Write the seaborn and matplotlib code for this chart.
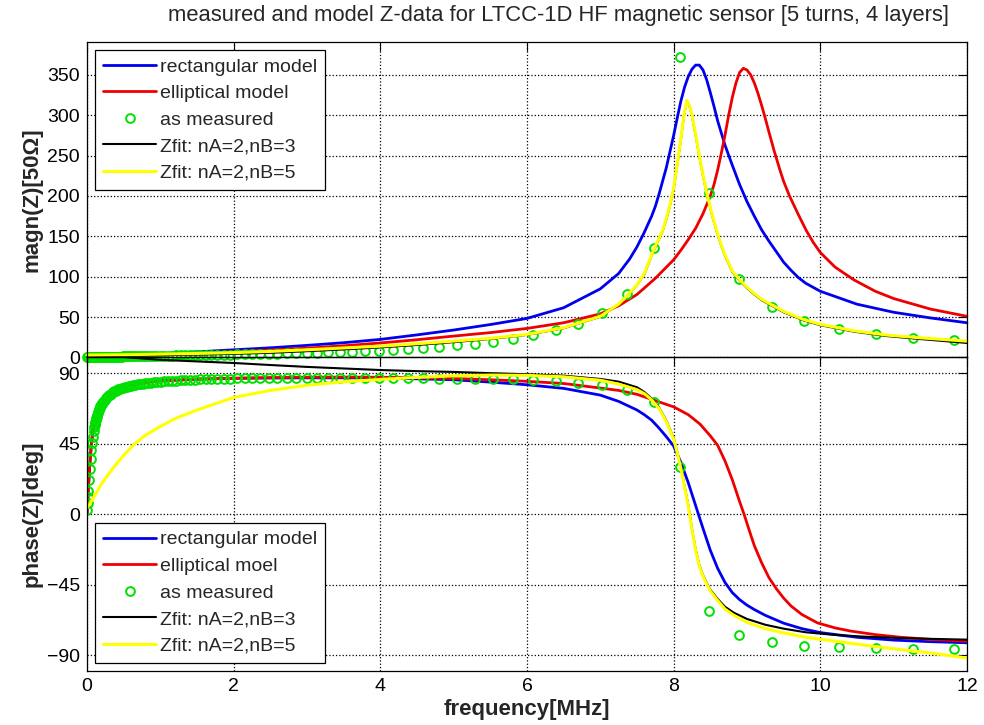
import matplotlib
matplotlib.use("Agg")
import matplotlib.pyplot as plt
import seaborn as sns

# ---------------- data ----------------
# measured points (frequency in MHz)
meas_freq = [0.005, 0.01, 0.015, 0.02, 0.03, 0.04, 0.05, 0.06, 0.07, 0.08,
             0.09, 0.099, 0.104, 0.109, 0.114, 0.119, 0.125, 0.131, 0.138, 0.144,
             0.151, 0.159, 0.166, 0.174, 0.183, 0.192, 0.201, 0.211, 0.221, 0.232,
             0.243, 0.255, 0.267, 0.280, 0.294, 0.308, 0.323, 0.339, 0.355, 0.373,
             0.391, 0.410, 0.429, 0.450, 0.472, 0.495, 0.519, 0.544, 0.571, 0.598,
             0.627, 0.658, 0.690, 0.723, 0.758, 0.795, 0.833, 0.874, 0.916, 0.960,
             1.007, 1.056, 1.107, 1.161, 1.217, 1.276, 1.338, 1.403, 1.471, 1.542,
             1.617, 1.696, 1.778, 1.864, 1.954, 2.049, 2.149, 2.253, 2.362, 2.477,
             2.597, 2.723, 2.855, 2.994, 3.139, 3.291, 3.451, 3.618, 3.794, 3.978,
             4.171, 4.373, 4.585, 4.807, 5.040, 5.285, 5.541, 5.81, 6.08, 6.39,
             6.70, 7.02, 7.36, 7.73, 8.08, 8.48, 8.89, 9.34, 9.78, 10.26,
             10.76, 11.27, 11.82]
meas_mag = [0.5, 0.5, 0.5, 0.5, 0.5, 0.6, 0.6, 0.6, 0.6, 0.6,
            0.7, 0.7, 0.7, 0.7, 0.7, 0.7, 0.7, 0.7, 0.7, 0.7,
            0.8, 0.8, 0.8, 0.8, 0.8, 0.8, 0.8, 0.8, 0.9, 0.9,
            0.9, 0.9, 0.9, 0.9, 1.0, 1.0, 1.0, 1.0, 1.1, 1.1,
            1.1, 1.1, 1.2, 1.2, 1.2, 1.3, 1.3, 1.4, 1.4, 1.5,
            1.5, 1.6, 1.6, 1.7, 1.7, 1.8, 1.8, 1.9, 2.0, 2.0,
            2.1, 2.2, 2.3, 2.4, 2.5, 2.5, 2.6, 2.7, 2.9, 3.0,
            3.1, 3.2, 3.4, 3.5, 3.7, 3.8, 4.0, 4.2, 4.4, 4.6,
            4.8, 5.0, 5.3, 5.5, 5.8, 6.2, 6.6, 7.0, 7.6, 8.3,
            9.4, 10.6, 12.0, 13.6, 15.4, 17.3, 19.6, 23.0, 28.0, 33.5,
            42.0, 55.0, 78.5, 135.5, 372.5, 204.0, 97.0, 63.0, 45.5, 34.7,
            29.0, 24.3, 21.5]
meas_phase = [3, 7, 11, 15, 22, 29, 35, 41, 45.5, 49.5,
              53, 55.7, 57, 58, 59, 60.3, 61.3, 62.3, 63.6, 64.5,
              65.4, 66.4, 67.2, 68, 68.8, 69.7, 70.5, 71.2, 71.9, 72.5,
              73.2, 74, 74.6, 75.2, 75.8, 76.3, 76.9, 77.4, 77.9, 78.4,
              78.8, 79.2, 79.6, 80, 80.4, 80.7, 81.1, 81.4, 81.7, 82,
              82.3, 82.6, 82.8, 83.1, 83.3, 83.5, 83.7, 83.9, 84.1, 84.3,
              84.5, 84.7, 84.9, 85.0, 85.2, 85.4, 85.5, 85.7, 85.8, 86.0,
              86.1, 86.2, 86.3, 86.4, 86.6, 86.7, 86.8, 86.9, 86.9, 87.0,
              87.0, 87.1, 87.1, 87.1, 87.1, 87.1, 87.1, 87.0, 87.0, 86.9,
              86.9, 86.8, 86.7, 86.6, 86.5, 86.4, 86.2, 86.0, 85.5, 85.0,
              83.8, 82.3, 79.1, 71.7, 30.3, -61.6, -76.8, -81.5, -83.8, -84.9,
              -85.3, -85.9, -85.9]

# rectangular model
rect_mag_freq = [0, 0.5, 1, 1.5, 2, 2.5, 3, 3.5, 4, 4.5,
                 5, 5.5, 6, 6.5, 7, 7.25, 7.4, 7.5, 7.6, 7.7,
                 7.75, 7.8, 7.9, 8.0, 8.05, 8.1, 8.15, 8.2, 8.25, 8.3,
                 8.35, 8.4, 8.45, 8.5, 8.55, 8.6, 8.7, 8.8, 8.9, 9.0,
                 9.1, 9.2, 9.3, 9.4, 9.5, 9.6, 9.7, 9.8, 10, 10.5,
                 11, 11.5, 12]
rect_mag = [0.5, 2.3, 4.6, 7, 9.5, 12, 15, 18.3, 22.4, 28,
            34, 40.8, 48.4, 61.6, 85, 104, 122, 137, 155, 175,
            187, 202, 235, 275, 297, 318, 335, 348, 357, 362,
            362, 356, 344, 328, 311, 293, 263, 238, 214, 193,
            175, 158, 144, 131, 118, 108, 99, 92, 82, 66,
            56, 49, 43]
rect_ph_freq = [0, 0.01, 0.02, 0.04, 0.06, 0.08, 0.1, 0.15, 0.2, 0.3,
                0.4, 0.5, 0.7, 1, 1.5, 2, 2.5, 3, 3.5, 4,
                4.5, 5, 5.5, 6, 6.5, 7, 7.25, 7.5, 7.6, 7.7,
                7.8, 7.9, 8.0, 8.1, 8.2, 8.3, 8.4, 8.5, 8.6, 8.7,
                8.8, 8.9, 9.0, 9.1, 9.25, 9.5, 9.75, 10, 10.5, 11,
                11.5, 12]
rect_ph = [0, 9, 18, 33, 45, 53, 59, 68, 73, 78,
           80.5, 82, 83.8, 85.2, 86.2, 86.7, 86.9, 87, 87, 86.8,
           86.4, 85.8, 84.3, 82.6, 80.3, 76, 72, 66.5, 63.5, 60,
           55, 49.5, 43.5, 33, 20, 5.5, -9, -23, -34.5, -43.5,
           -50, -54.5, -58, -60.8, -64.5, -69.5, -73, -75.5, -78.5, -80.3,
           -81.3, -82]

# elliptical model
ellip_mag_freq = [0, 0.5, 1, 1.5, 2, 2.5, 3, 3.5, 4, 4.5,
                  5, 5.5, 6, 6.5, 7, 7.25, 7.5, 7.75, 8.0, 8.1,
                  8.2, 8.3, 8.4, 8.5, 8.55, 8.6, 8.65, 8.7, 8.75, 8.8,
                  8.85, 8.9, 8.95, 9.0, 9.05, 9.1, 9.15, 9.2, 9.25, 9.3,
                  9.37, 9.45, 9.5, 9.58, 9.7, 9.81, 9.9, 10, 10.2, 10.46,
                  10.75, 11, 11.5, 12]
ellip_mag = [0.5, 1.8, 3.5, 5.2, 7.2, 9.3, 11.5, 14.5, 18, 22,
             26.5, 30.8, 36, 43, 54, 64, 78, 98, 121, 133,
             146, 160, 178, 200, 214, 232, 253, 275, 300, 322,
             340, 353, 358, 356, 350, 340, 327, 312, 296, 279,
             256, 232, 218, 200, 177, 157, 143, 130, 112, 96,
             82, 73, 60, 51]
ellip_ph_freq = [0, 0.01, 0.02, 0.04, 0.06, 0.08, 0.1, 0.15, 0.2, 0.3,
                 0.4, 0.5, 0.7, 1, 1.5, 2, 2.5, 3, 3.5, 4,
                 4.5, 5, 5.5, 6, 6.5, 7, 7.25, 7.5, 7.75, 8.0,
                 8.2, 8.36, 8.5, 8.6, 8.7, 8.8, 8.9, 8.96, 9.05, 9.1,
                 9.2, 9.3, 9.4, 9.5, 9.6, 9.75, 9.96, 10.2, 10.41, 10.75,
                 11.1, 11.5, 12]
ellip_ph = [0, 8.5, 17.5, 32.5, 44.5, 52.5, 58.5, 67.5, 72.5, 77.5,
            80, 81.6, 83.5, 85, 86.2, 86.8, 87.2, 87.4, 87.5, 87.4,
            87.1, 86.6, 85.8, 84.8, 83.4, 80.5, 79, 76.5, 72.5, 68.5,
            63.5, 57.5, 50, 44, 34, 22, 8, 0, -13, -20,
            -31, -40.5, -47.5, -53.5, -58.5, -64, -69.3, -72.5, -74.5, -76.8,
            -78.5, -79.8, -81]

# Zfit nA=2, nB=3 (black) and nA=2, nB=5 (yellow)
fit_mag_freq = [0, 0.5, 1, 1.5, 2, 2.5, 3, 3.5, 4, 4.5,
                5, 5.5, 6, 6.5, 7, 7.25, 7.4, 7.5, 7.6, 7.7,
                7.77, 7.84, 7.9, 7.95, 8.0, 8.05, 8.1, 8.14, 8.18, 8.22,
                8.25, 8.3, 8.35, 8.4, 8.46, 8.53, 8.61, 8.7, 8.8, 8.9,
                9.0, 9.1, 9.2, 9.32, 9.5, 9.77, 10, 10.46, 10.91, 11.37,
                12]
fit3_mag = [1.5, 2, 2.8, 3.6, 4.5, 5.8, 7.8, 10, 12.5, 15.5,
            19, 23, 28, 36.2, 50.5, 65.5, 79.5, 89.5, 103, 126,
            141, 154, 171, 188, 209, 239, 271, 299, 318, 310,
            299, 275, 249, 225, 199, 174, 149, 126, 106, 95,
            86, 78, 71, 65, 56, 46, 40, 32, 26.5, 22.8,
            18]
fit5_mag = [3, 3.4, 4.2, 5, 6, 7.5, 9.5, 11.8, 14, 17,
            20.3, 23.8, 28.6, 36.8, 51, 66, 80, 90, 104, 127,
            142, 155, 172, 189, 210, 240, 272, 300, 318, 311,
            300, 276, 250, 226, 200, 175, 150, 127, 107, 96,
            87, 79, 72, 66, 57, 47, 41, 33, 27.7, 24.3,
            20.2]
fit3_ph_freq = [0, 0.1, 0.25, 0.5, 1.0, 1.5, 2.0, 2.5, 3.0, 3.5,
                4.0, 4.5, 5.0, 5.5, 6.0, 6.5, 7.0, 7.25, 7.5, 7.6,
                7.7, 7.8, 7.9, 8.0, 8.05, 8.1, 8.15, 8.2, 8.25, 8.3,
                8.35, 8.4, 8.45, 8.5, 8.6, 8.7, 8.82, 9.0, 9.25, 9.5,
                9.8, 10.2, 10.6, 11.1, 11.5, 12]
fit3_ph = [130, 115, 106, 100.3, 98.5, 97.5, 96.5, 95.2, 94, 93,
           92, 91.3, 90.8, 90, 89.3, 88.4, 86.3, 84.6, 81, 78,
           73.8, 68.2, 59.7, 48.7, 39.6, 29.6, 17.6, 5.6, -9.4, -22.4,
           -32.4, -38.8, -43.8, -48.2, -54, -59, -62.8, -66.8, -70.5, -73,
           -75.3, -77, -78.1, -79, -79.5, -80]
fit5_ph_freq = [0, 0.05, 0.1, 0.2, 0.3, 0.4, 0.5, 0.64, 0.8, 1.0,
                1.2, 1.5, 2.0, 2.5, 3.0, 3.5, 4.0, 4.5, 5.0, 5.5,
                6.0, 6.5, 7.0, 7.25, 7.5, 7.6, 7.7, 7.8, 7.9, 8.0,
                8.05, 8.1, 8.15, 8.2, 8.25, 8.3, 8.35, 8.4, 8.45, 8.5,
                8.6, 8.7, 8.82, 9.0, 9.25, 9.5, 9.8, 10.2, 10.6, 11.1,
                11.5, 12]
fit5_ph = [4, 7.5, 11.5, 19.5, 26, 32, 37.5, 44.6, 50.5, 56,
           61, 66.5, 74.5, 79, 82.3, 84.5, 86, 87.3, 88.3, 88.8,
           88.6, 87.7, 85.5, 83, 79.5, 77, 73, 67.5, 59, 48,
           39, 29, 17, 5, -10, -23, -33, -39.5, -44.5, -49,
           -55, -60.5, -64.5, -69, -73, -75.7, -78.5, -81, -83.5, -86.4,
           -88.5, -91.7]

x_ticks = [0, 2, 4, 6, 8, 10, 12]
mag_ticks = [0, 50, 100, 150, 200, 250, 300, 350]
phase_ticks = [-90, -45, 0, 45, 90]

labels_top = ["rectangular model", "elliptical model", "as measured",
              "Zfit: nA=2,nB=3", "Zfit: nA=2,nB=5"]
labels_bottom = ["rectangular model", "elliptical moel", "as measured",
                 "Zfit: nA=2,nB=3", "Zfit: nA=2,nB=5"]
title_text = "measured and model Z-data for LTCC-1D HF magnetic sensor [5 turns, 4 layers]"

# ---------------- style ----------------
sns.set_style("white")
plt.rcParams['font.family'] = ['Liberation Sans', 'DejaVu Sans']

BLUE = '#0000ee'
RED = '#ee0000'
GREEN = '#00e000'
BLACK = '#000000'
YELLOW = '#ffff00'

fig = plt.figure(figsize=(9.84, 7.25), dpi=100)
ax1 = fig.add_axes([0.0884, 0.5069, 0.8943, 0.4356])
ax2 = fig.add_axes([0.0884, 0.0745, 0.8943, 0.4324])
ax2.set_facecolor('none')


def draw_line(ax, f, v, color, lw, label, clip):
    sns.lineplot(x=f, y=v, ax=ax, color=color, linewidth=lw, label=label,
                 sort=False, estimator=None, legend=False, clip_on=clip)


def draw_points(ax, f, v, label, clip):
    sns.lineplot(x=f, y=v, ax=ax, color=GREEN, linestyle='none', marker='o',
                 markersize=6.3, markerfacecolor='none', markeredgecolor=GREEN,
                 markeredgewidth=1.4, label=label, sort=False, estimator=None,
                 legend=False, clip_on=clip)


# top: magnitude
draw_line(ax1, rect_mag_freq, rect_mag, BLUE, 2.0, labels_top[0], False)
draw_line(ax1, ellip_mag_freq, ellip_mag, RED, 2.0, labels_top[1], False)
draw_points(ax1, meas_freq, meas_mag, labels_top[2], False)
draw_line(ax1, fit_mag_freq, fit3_mag, BLACK, 1.5, labels_top[3], False)
draw_line(ax1, fit_mag_freq, fit5_mag, YELLOW, 2.2, labels_top[4], False)

# bottom: phase
draw_line(ax2, rect_ph_freq, rect_ph, BLUE, 2.0, labels_bottom[0], True)
draw_line(ax2, ellip_ph_freq, ellip_ph, RED, 2.0, labels_bottom[1], True)
draw_points(ax2, meas_freq, meas_phase, labels_bottom[2], True)
draw_line(ax2, fit3_ph_freq, fit3_ph, BLACK, 1.5, labels_bottom[3], True)
draw_line(ax2, fit5_ph_freq, fit5_ph, YELLOW, 2.2, labels_bottom[4], True)

for ax in (ax1, ax2):
    ax.set_xlim(0, 12)
    ax.set_xticks(x_ticks)
    ax.grid(True, linestyle=':', color='black', linewidth=0.9)
    ax.set_axisbelow(True)
    ax.tick_params(direction='in', top=True, right=True, length=6.5,
                   width=0.8, labelsize=14, pad=5, colors='black')
    for s in ax.spines.values():
        s.set_color('black')
        s.set_linewidth(0.9)
    ax.set_xlabel('')

ax1.set_ylim(0, 391)
ax1.set_yticks(mag_ticks)
ax1.tick_params(labelbottom=False)
ax2.set_ylim(-100, 100)
ax2.set_yticks(phase_ticks)
ax2.set_xticklabels([str(t) for t in x_ticks])

ax1.set_ylabel('magn(Z)[50Ω]', fontsize=16, fontweight='bold')
ax1.yaxis.set_label_coords(-0.051, 0.5)
ax2.set_ylabel('phase(Z)[deg]', fontsize=16, fontweight='bold')
ax2.yaxis.set_label_coords(-0.051, 0.5)
ax2.set_xlabel('frequency[MHz]', fontsize=16, fontweight='bold')
ax2.xaxis.set_label_coords(0.5, -0.088)

fig.text(0.568, 1 - 16 / 725, title_text, ha='center', va='center', fontsize=15.8)

leg_kw = dict(fontsize=14, frameon=True, fancybox=False, edgecolor='black',
              framealpha=1, handlelength=2.7, handletextpad=0.2,
              borderaxespad=0.42, labelspacing=0.46, borderpad=0.42)
leg1 = ax1.legend(loc='upper left', **leg_kw)
leg1.get_frame().set_linewidth(0.9)
leg2 = ax2.legend(loc='lower left', **leg_kw)
leg2.get_frame().set_linewidth(0.9)
ax1.set_zorder(1)
ax2.set_zorder(2)

fig.savefig('out.png', dpi=100, facecolor='white')
